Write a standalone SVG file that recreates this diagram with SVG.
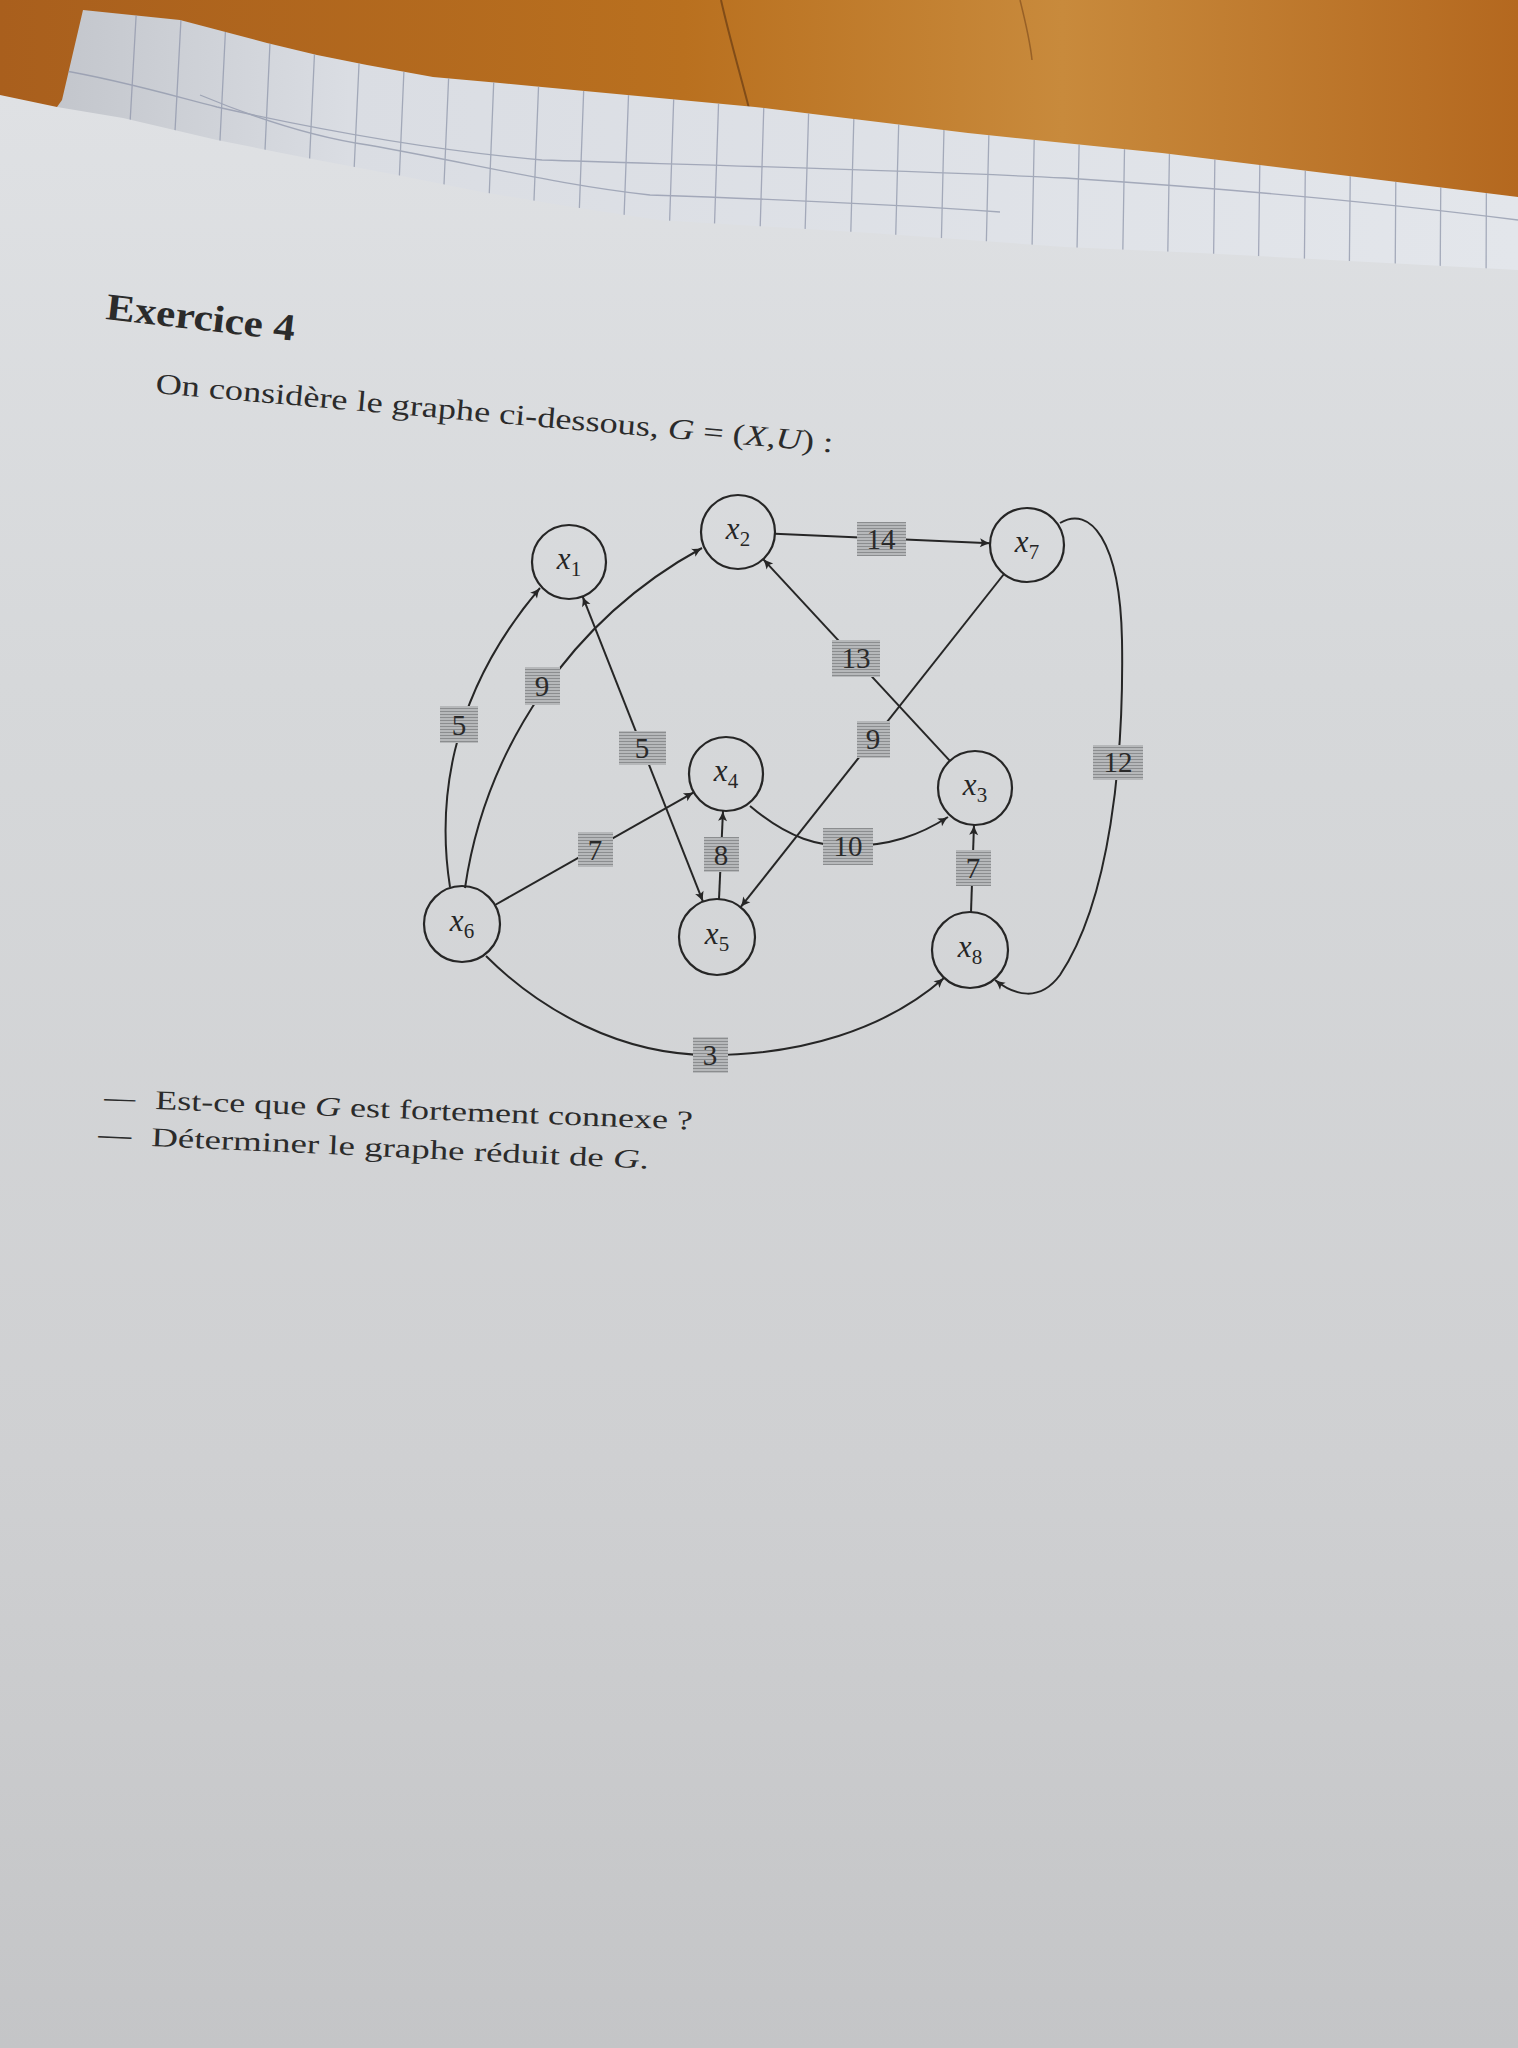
<svg xmlns="http://www.w3.org/2000/svg" width="1518" height="2048" viewBox="0 0 1518 2048">
<defs>
<linearGradient id="wood" x1="0" y1="0" x2="1" y2="0">
<stop offset="0" stop-color="#a95f1d"/>
<stop offset="0.45" stop-color="#b9701f"/>
<stop offset="0.7" stop-color="#c88a3c"/>
<stop offset="1" stop-color="#b4681f"/>
</linearGradient>
<linearGradient id="grid" x1="0" y1="0" x2="1" y2="0">
<stop offset="0" stop-color="#c3c6cc"/>
<stop offset="0.2" stop-color="#dadde3"/>
<stop offset="1" stop-color="#e3e6eb"/>
</linearGradient>
<linearGradient id="page" x1="0" y1="0" x2="0" y2="1">
<stop offset="0" stop-color="#dfe1e4"/>
<stop offset="0.3" stop-color="#d6d8da"/>
<stop offset="0.7" stop-color="#cfd0d2"/>
<stop offset="1" stop-color="#c4c5c7"/>
</linearGradient>
<pattern id="hatch" width="4" height="3" patternUnits="userSpaceOnUse">
<rect width="4" height="3" fill="#b6b8ba"/>
<rect width="4" height="1" fill="#8b8d8f"/>
</pattern>
<clipPath id="gridclip">
<path d="M83,10 L180,20 L267,43 L317,55 L367,65 L433,77 L500,83 L542,87 L755,107 L968,133 L1162,153 L1518,197 L1518,300 L57,300 L57,107 L62,100 Z"/>
</clipPath>
<marker id="arr" viewBox="-11 -6 13 12" refX="0" refY="0" markerWidth="13" markerHeight="12" markerUnits="userSpaceOnUse" orient="auto-start-reverse">
<path d="M-10,-4.5 Q-5,-1.5 0,0 Q-5,1.5 -10,4.5 L-8,0 Z" fill="#262626"/>
</marker>
<style>
.edge{fill:none;stroke:#262626;stroke-width:2;marker-end:url(#arr)}
.node circle{fill:none;stroke:#262626;stroke-width:2.2}
.node text{font-family:"Liberation Serif","DejaVu Serif",serif;font-size:31px;font-style:italic;fill:#262626;text-anchor:middle}
.node .sub{font-size:21px;font-style:normal}
.lbl rect{fill:url(#hatch)}
.lbl text{font-family:"Liberation Serif","DejaVu Serif",serif;font-size:29px;fill:#2a2a2a;text-anchor:middle}
.doc{font-family:"Liberation Serif","DejaVu Serif",serif;fill:#2b2b2b}
.it{font-style:italic}
</style>
</defs>

<g id="background">
<rect width="1518" height="2048" fill="url(#wood)"/>
<path d="M721,0 C730,40 742,80 752,120" fill="none" stroke="#5a3210" stroke-width="2" opacity="0.6"/>
<path d="M1020,0 C1025,20 1030,40 1032,60" fill="none" stroke="#6a3a14" stroke-width="1.5" opacity="0.5"/>
<path d="M83,10 L180,20 L267,43 L317,55 L367,65 L433,77 L500,83 L542,87 L755,107 L968,133 L1162,153 L1518,197 L1518,300 L57,300 L57,107 L62,100 Z" fill="url(#grid)"/>
<g clip-path="url(#gridclip)" stroke="#8f96aa" stroke-width="1.3" opacity="0.75">
<path d="M137,0 L120,300 M182,0 L166,300 M227,0 L212,300 M272,0 L258,300 M317,0 L303,300 M362,0 L348,300 M407,0 L394,300 M452,0 L439,300 M497,0 L485,300 M542,0 L530,300 M587,0 L576,300 M632,0 L621,300 M677,0 L667,300 M722,0 L712,300 M767,0 L758,300 M812,0 L803,300 M857,0 L849,300 M902,0 L894,300 M947,0 L940,300 M992,0 L985,300 M1037,0 L1031,300 M1082,0 L1076,300 M1127,0 L1122,300 M1172,0 L1167,300 M1217,0 L1213,300 M1262,0 L1258,300 M1307,0 L1304,300 M1352,0 L1349,300 M1397,0 L1395,300 M1442,0 L1440,300 M1487,0 L1486,300"/>
<path d="M60,70 C120,80 170,95 217,107 C320,130 430,150 542,160 C700,165 900,170 1065,178 C1250,190 1400,205 1518,220" fill="none"/>
<path d="M200,95 C260,120 320,138 368,145 C480,165 560,185 650,195 C800,200 900,205 1000,212" fill="none"/>
</g>
<path d="M0,95 L57,107 L123,118 L217,140 L307,158 L397,175 L482,192 L560,205 L658,220 L871,233 L1065,247 L1200,253 L1518,270 L1518,2048 L0,2048 Z" fill="url(#page)"/>
</g>

<g id="text">
<text class="doc" x="105" y="319" font-size="38" font-weight="bold" textLength="190" lengthAdjust="spacingAndGlyphs" transform="rotate(6.6 105 319)">Exercice 4</text>
<text class="doc" x="155" y="393" font-size="29" textLength="680" lengthAdjust="spacingAndGlyphs" transform="rotate(5 155 393)">On considère le graphe ci-dessous, <tspan class="it">G</tspan> = (<tspan class="it">X</tspan>,<tspan class="it">U</tspan>) :</text>
<text class="doc" x="104" y="1106" font-size="27" textLength="31" lengthAdjust="spacingAndGlyphs" transform="rotate(2.2 104 1106)">—</text>
<text class="doc" x="155" y="1109" font-size="27" textLength="538" lengthAdjust="spacingAndGlyphs" transform="rotate(2.2 155 1109)">Est-ce que <tspan class="it">G</tspan> est fortement connexe ?</text>
<text class="doc" x="98" y="1143" font-size="27" textLength="33" lengthAdjust="spacingAndGlyphs" transform="rotate(2.6 98 1143)">—</text>
<text class="doc" x="151" y="1146" font-size="27" textLength="498" lengthAdjust="spacingAndGlyphs" transform="rotate(2.6 151 1146)">Déterminer le graphe réduit de <tspan class="it">G</tspan>.</text>
</g>

<g id="connectors">
<path id="e61" class="edge" d="M450,887 C438,810 445,700 540,588"/>
<path id="e62" class="edge" d="M465,888 C485,750 570,620 702,548"/>
<path id="e15" class="edge" d="M703,901.7 L582.6,596.4" marker-start="url(#arr)"/>
<path id="e64" class="edge" d="M495,905 L693.8,792.3"/>
<path id="e54" class="edge" d="M719,899 L723,811"/>
<path id="e43" class="edge" d="M750,806 C790,840 820,846 848,846 C890,846 920,835 948,817"/>
<path id="e75" class="edge" d="M1004,574 L740.6,907.2"/>
<path id="e32" class="edge" d="M949.9,760.9 L763.1,559.1"/>
<path id="e27" class="edge" d="M775,533.7 L990,543.3"/>
<path id="e78" class="edge" d="M1060,523 C1090,505 1120,540 1122,640 C1124,760 1110,900 1060,975 C1040,1002 1015,996 995,980"/>
<path id="e83" class="edge" d="M971,912 L974,825"/>
<path id="e68" class="edge" d="M486,956 C540,1010 620,1055 710,1055 C800,1055 885,1030 944,978"/>
</g>

<g id="labels">
<g class="lbl" id="l61"><rect x="440" y="706" width="38" height="37"/><text x="459" y="735">5</text></g>
<g class="lbl" id="l62"><rect x="525" y="667" width="35" height="38"/><text x="542" y="696">9</text></g>
<g class="lbl" id="l15"><rect x="619" y="731" width="47" height="34"/><text x="642" y="758">5</text></g>
<g class="lbl" id="l64"><rect x="578" y="832" width="35" height="35"/><text x="595" y="860">7</text></g>
<g class="lbl" id="l54"><rect x="704" y="837" width="35" height="35"/><text x="721" y="865">8</text></g>
<g class="lbl" id="l68"><rect x="693" y="1037" width="35" height="36"/><text x="710" y="1065">3</text></g>
<g class="lbl" id="l27"><rect x="857" y="522" width="49" height="34"/><text x="881" y="549">14</text></g>
<g class="lbl" id="l32"><rect x="832" y="640" width="48" height="37"/><text x="856" y="668">13</text></g>
<g class="lbl" id="l75"><rect x="857" y="721" width="33" height="37"/><text x="873" y="749">9</text></g>
<g class="lbl" id="l78"><rect x="1093" y="745" width="50" height="35"/><text x="1118" y="772">12</text></g>
<g class="lbl" id="l43"><rect x="823" y="828" width="50" height="37"/><text x="848" y="856">10</text></g>
<g class="lbl" id="l83"><rect x="956" y="850" width="35" height="36"/><text x="973" y="878">7</text></g>
</g>

<g id="x1" class="node"><circle cx="569" cy="562" r="37"/><text x="569" y="569">x<tspan class="sub" dy="7">1</tspan></text></g>
<g id="x2" class="node"><circle cx="738" cy="532" r="37"/><text x="738" y="539">x<tspan class="sub" dy="7">2</tspan></text></g>
<g id="x3" class="node"><circle cx="975" cy="788" r="37"/><text x="975" y="795">x<tspan class="sub" dy="7">3</tspan></text></g>
<g id="x4" class="node"><circle cx="726" cy="774" r="37"/><text x="726" y="781">x<tspan class="sub" dy="7">4</tspan></text></g>
<g id="x5" class="node"><circle cx="717" cy="937" r="38"/><text x="717" y="944">x<tspan class="sub" dy="7">5</tspan></text></g>
<g id="x6" class="node"><circle cx="462" cy="924" r="38"/><text x="462" y="931">x<tspan class="sub" dy="7">6</tspan></text></g>
<g id="x7" class="node"><circle cx="1027" cy="545" r="37"/><text x="1027" y="552">x<tspan class="sub" dy="7">7</tspan></text></g>
<g id="x8" class="node"><circle cx="970" cy="950" r="38"/><text x="970" y="957">x<tspan class="sub" dy="7">8</tspan></text></g>
</svg>
